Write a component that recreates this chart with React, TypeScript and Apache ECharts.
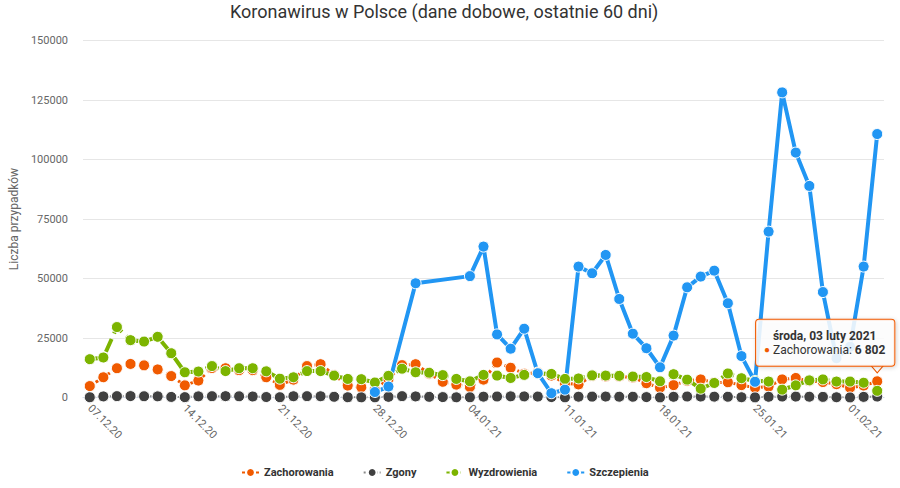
import React, { useEffect, useRef } from 'react';
import * as echarts from 'echarts';

const chartTitle = 'Koronawirus w Polsce (dane dobowe, ostatnie 60 dni)';
const yAxisTitle = 'Liczba przypadków';
const seriesNames = ['Zachorowania', 'Zgony', 'Wyzdrowienia', 'Szczepienia'];
const tooltipDate = 'środa, 03 luty 2021';

const dates = [
  '07.12.20', '08.12.20', '09.12.20', '10.12.20', '11.12.20', '12.12.20', '13.12.20',
  '14.12.20', '15.12.20', '16.12.20', '17.12.20', '18.12.20', '19.12.20', '20.12.20',
  '21.12.20', '22.12.20', '23.12.20', '24.12.20', '25.12.20', '26.12.20', '27.12.20',
  '28.12.20', '29.12.20', '30.12.20', '31.12.20', '01.01.21', '02.01.21', '03.01.21',
  '04.01.21', '05.01.21', '06.01.21', '07.01.21', '08.01.21', '09.01.21', '10.01.21',
  '11.01.21', '12.01.21', '13.01.21', '14.01.21', '15.01.21', '16.01.21', '17.01.21',
  '18.01.21', '19.01.21', '20.01.21', '21.01.21', '22.01.21', '23.01.21', '24.01.21',
  '25.01.21', '26.01.21', '27.01.21', '28.01.21', '29.01.21', '30.01.21', '31.01.21',
  '01.02.21', '02.02.21', '03.02.21',
];

const zachorowania = [
  4800, 8500, 12300, 14100, 13500, 11800, 9000,
  5100, 7100, 12400, 12300, 11500, 11500, 8500,
  5300, 7500, 13200, 14000, 9500, 5000, 4300,
  3200, 7800, 13600, 14000, 10000, 6600, 5400,
  4400, 7500, 14700, 12500, 10000, 10500, 9200,
  6000, 5500, 9000, 8800, 8800, 8400, 6000,
  4100, 5200, 7000, 7600, 6300, 6400, 5200,
  4100, 4600, 7600, 8200, 6900, 6500, 5600,
  4100, 5000, 6802,
];

const zgony = [
  100, 460, 570, 590, 530, 480, 240,
  150, 480, 550, 570, 500, 420, 200,
  120, 530, 560, 520, 300, 110, 60,
  70, 270, 570, 460, 280, 170, 80,
  90, 350, 420, 490, 460, 390, 180,
  60, 330, 370, 390, 330, 320, 170,
  40, 300, 410, 400, 350, 320, 110,
  50, 300, 400, 380, 330, 260, 100,
  30, 260, 390,
];

const wyzdrowienia = [
  16100, 16800, 29600, 24100, 23500, 25500, 18600,
  10600, 10900, 13200, 11100, 12300, 12300, 11000,
  7900, 8500, 11100, 11100, 9200, 7800, 7700,
  6300, 9100, 12100, 10600, 10400, 9400, 7800,
  6800, 9500, 9200, 8200, 9500, 10200, 9900,
  7800, 8000, 9300, 9200, 9100, 8800, 8600,
  6800, 9800, 7500, 3700, 6100, 10100, 8100,
  7000, 6700, 3300, 5100, 7200, 7600, 6700,
  6700, 6200, 2800,
];

const szczepienia: (number | null)[] = [
  null, null, null, null, null, null, null,
  null, null, null, null, null, null, null,
  null, null, null, null, null, null, null,
  2300, 4600, null, 48000, null, null, null,
  51000, 63400, 26500, 20500, 28900, 10200, 1800,
  3300, 55000, 52200, 59900, 41400, 26800, 20700,
  12700, 26000, 46300, 50800, 53300, 39600, 17400,
  6600, 69700, 128200, 102900, 88900, 44300, 16500,
  21300, 55000, 110700,
];

const yMin = 0;
const yMax = 150000;
const yStep = 25000;

const COLORS = ['#F05A00', '#404040', '#7CB400', '#2196F3'];

function fmtThousands(v: number): string {
  return String(v).replace(/\B(?=(\d{3})+(?!\d))/g, ' ');
}

export default function App() {
  const ref = useRef<HTMLDivElement>(null);

  useEffect(() => {
    if (!ref.current) return;
    const chart = echarts.init(ref.current, null, { renderer: 'svg' });
    const last = dates.length - 1;

    const symbolCommon = {
      symbol: 'circle',
      symbolSize: 11,
      showSymbol: true,
      showAllSymbol: true,
      connectNulls: true,
      emphasis: { disabled: true },
    };

    const option: any = {
      animation: false,
      textStyle: { fontFamily: 'Roboto, sans-serif' },
      color: COLORS,
      title: {
        text: chartTitle,
        left: 230,
        top: 2,
        padding: 0,
        textStyle: { fontSize: 18, fontWeight: 'normal', color: '#333333', fontFamily: 'Roboto' },
      },
      legend: {
        data: seriesNames,
        left: 236,
        top: 462,
        itemGap: 29,
        itemWidth: 17,
        itemHeight: 11,
        textStyle: { fontSize: 11, fontWeight: 'bold', color: '#333333', fontFamily: 'Roboto' },
      },
      grid: { left: 80, right: 16, top: 40.5, bottom: 90.5, containLabel: false },
      xAxis: {
        type: 'category',
        data: dates,
        boundaryGap: true,
        axisLine: { show: true, lineStyle: { color: '#ccd6eb' } },
        axisTick: { show: true, alignWithLabel: true, interval: 6, length: 6, lineStyle: { color: '#ccd6eb' } },
        axisLabel: { interval: 6, rotate: -45, color: '#666666', fontSize: 11, margin: 9, fontFamily: 'Roboto' },
        splitLine: { show: false },
      },
      yAxis: {
        type: 'value',
        min: yMin,
        max: yMax,
        interval: yStep,
        name: yAxisTitle,
        nameLocation: 'middle',
        nameGap: 58,
        nameTextStyle: { color: '#666666', fontSize: 12, fontFamily: 'Roboto' },
        axisLine: { show: false },
        axisTick: { show: false },
        axisLabel: {
          color: '#666666',
          fontSize: 11,
          margin: 15,
          fontFamily: 'Roboto',
          formatter: (v: number) => String(v),
        },
        splitLine: { lineStyle: { color: '#e6e6e6', width: 1 } },
      },
      series: [
        {
          ...symbolCommon,
          name: seriesNames[0],
          type: 'line',
          data: zachorowania,
          lineStyle: { color: COLORS[0], width: 3, type: [3, 4] },
          itemStyle: { color: COLORS[0], borderColor: '#ffffff', borderWidth: 1 },
          markPoint: {
            z: 10,
            silent: true,
            data: [
              {
                coord: [dates[last], zachorowania[last]],
                symbol: 'circle',
                symbolSize: 1,
                itemStyle: { color: 'rgba(0,0,0,0)', borderWidth: 0 },
                label: {
                  show: true,
                  position: 'top',
                  distance: 15,
                  offset: [-52, 0],
                  formatter:
                    '{t|' + tooltipDate + '}\n{d|●} {n|' + seriesNames[0] + ': }{v|' +
                    fmtThousands(zachorowania[last]) + '}',
                  backgroundColor: 'rgba(255,255,255,0.86)',
                  borderColor: COLORS[0],
                  borderWidth: 1,
                  borderRadius: 3,
                  padding: [9, 9, 9, 8],
                  shadowColor: 'rgba(0,0,0,0.18)',
                  shadowBlur: 4,
                  shadowOffsetX: 1,
                  shadowOffsetY: 1,
                  align: 'center',
                  rich: {
                    t: { fontWeight: 'bold', fontSize: 12, color: '#333333', lineHeight: 14, fontFamily: 'Roboto' },
                    d: { color: COLORS[0], fontSize: 10, lineHeight: 14, fontFamily: 'Roboto' },
                    n: { fontSize: 12, color: '#333333', lineHeight: 14, fontFamily: 'Roboto' },
                    v: { fontWeight: 'bold', fontSize: 12, color: '#333333', lineHeight: 14, fontFamily: 'Roboto' },
                  },
                },
              },
              {
                coord: [dates[last], zachorowania[last]],
                symbol: 'path://M0,0 L6,7 L12,0',
                symbolSize: [12, 7],
                symbolOffset: [0, -12],
                itemStyle: { color: '#ffffff', borderColor: COLORS[0], borderWidth: 1 },
                label: { show: false },
              },
            ],
          },
        },
        {
          ...symbolCommon,
          name: seriesNames[1],
          type: 'line',
          data: zgony,
          lineStyle: { color: '#8a8a8a', width: 2, type: 'dotted' },
          itemStyle: { color: COLORS[1], borderColor: '#ffffff', borderWidth: 1 },
        },
        {
          ...symbolCommon,
          name: seriesNames[2],
          type: 'line',
          data: wyzdrowienia,
          lineStyle: { color: COLORS[2], width: 4, type: [14, 6] },
          itemStyle: { color: COLORS[2], borderColor: '#ffffff', borderWidth: 1 },
        },
        {
          ...symbolCommon,
          name: seriesNames[3],
          type: 'line',
          data: szczepienia,
          lineStyle: { color: COLORS[3], width: 4 },
          itemStyle: { color: COLORS[3], borderColor: '#ffffff', borderWidth: 1 },
        },
      ],
    };

    chart.setOption(option);
    return () => chart.dispose();
  }, []);

  return (
    <div
      ref={ref}
      style={{ position: 'absolute', left: 0, top: 0, width: 900, height: 488, background: '#ffffff' }}
    />
  );
}
